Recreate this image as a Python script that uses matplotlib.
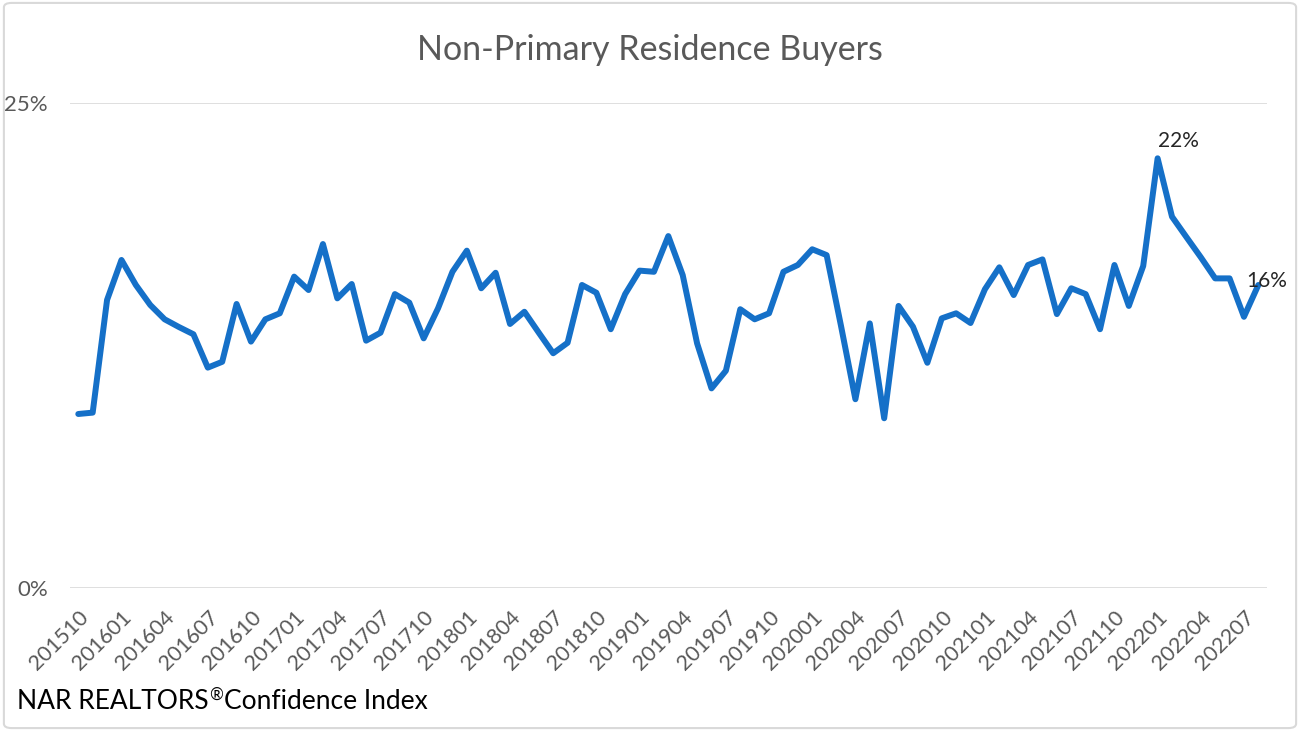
import matplotlib.pyplot as plt
import pandas as pd
from matplotlib.patches import FancyBboxPatch
from matplotlib.transforms import offset_copy

# share of non-primary residence buyers, monthly, 2015-10 .. 2022-08 (percent)
share_pct = [
    8.97, 9.04, 14.85, 16.91, 15.62, 14.59, 13.85, 13.45, 13.08, 11.36,
    11.66, 14.64, 12.70, 13.85, 14.16, 16.05, 15.36, 17.73, 14.93, 15.67,
    12.75, 13.16, 15.15, 14.71, 12.87, 14.42, 16.30, 17.39, 15.45, 16.25,
    13.61, 14.24, 13.16, 12.10, 12.64, 15.62, 15.22, 13.34, 15.15, 16.36,
    16.30, 18.14, 16.13, 12.61, 10.29, 11.20, 14.37, 13.85, 14.16, 16.30,
    16.65, 17.46, 17.16, 13.51, 9.73, 13.64, 8.75, 14.54, 13.47, 11.61,
    13.90, 14.16, 13.66, 15.40, 16.53, 15.10, 16.65, 16.94, 14.12, 15.45,
    15.15, 13.34, 16.65, 14.54, 16.60, 22.15, 19.14, 18.09, 17.05, 15.96,
    15.96, 13.98, 15.62,
]
months = list(pd.period_range('2015-10', '2022-08', freq='M').strftime('%Y%m'))
tick_labels = months[::3]
labelled = {'202201': '22%', '202208': '16%'}

blue = '#1570c8'
grey = '#595959'

fig = plt.figure(figsize=(13, 7.31), dpi=100)
plt.rcParams['font.family'] = ['Lato', 'DejaVu Sans']

fig.patches.append(FancyBboxPatch((0.003, 0.004), 0.994, 0.992,
                                  boxstyle='round,pad=0,rounding_size=0.006',
                                  transform=fig.transFigure, facecolor='none',
                                  edgecolor='#d9d9d9', linewidth=1.5, zorder=-1))

ax = fig.add_axes([0.0538, 0.1956, 0.9208, 0.6635])
ax.patch.set_alpha(0)
x = list(range(len(months)))
ax.plot(x, share_pct, color=blue, lw=4.3, solid_joinstyle='round', solid_capstyle='round')

for m, txt in labelled.items():
    i = months.index(m)
    if m == '202201':
        ax.annotate(txt, (i, share_pct[i]), xytext=(0, 5), textcoords='offset points',
                    ha='left', va='bottom', fontsize=15, color='#262626')
    else:
        ax.annotate(txt, (i, share_pct[i]), xytext=(-9, 3), textcoords='offset points',
                    ha='left', va='center', fontsize=15, color='#262626')

ax.set_xlim(-0.58, 82.6)
ax.set_ylim(0, 25)
ax.set_yticks([0, 25])
ax.set_yticklabels(['0%', '25%'])
ax.yaxis.grid(True, color='#d9d9d9', lw=1.2)
ax.set_axisbelow(True)
ax.set_xticks(x[::3])
ax.set_xticklabels(tick_labels, rotation=45, ha='right', va='top', rotation_mode='anchor')
for s in ax.spines.values():
    s.set_visible(False)
ax.tick_params(axis='both', length=0, labelcolor=grey)
ax.tick_params(axis='y', pad=16, labelsize=16)
ax.tick_params(axis='x', pad=14, labelsize=15.5)

fig.text(0.5, 0.932, 'Non-Primary Residence Buyers', ha='center', va='center',
         fontsize=24.5, color=grey)

# source line, with a small raised registered sign
renderer = fig.canvas.get_renderer()
t1 = fig.text(0.013, 0.04, 'NAR REALTORS', ha='left', va='center', fontsize=19, color='black')
w1 = t1.get_window_extent(renderer).width
t2 = fig.text(0.013, 0.04, '®', ha='left', va='center', fontsize=12, color='black',
              transform=offset_copy(fig.transFigure, fig=fig, x=w1 + 1, y=7, units='dots'))
w2 = t2.get_window_extent(renderer).width
fig.text(0.013, 0.04, 'Confidence Index', ha='left', va='center', fontsize=19, color='black',
         transform=offset_copy(fig.transFigure, fig=fig, x=w1 + w2 + 2, y=0, units='dots'))

fig.savefig('out.png', dpi=100)
